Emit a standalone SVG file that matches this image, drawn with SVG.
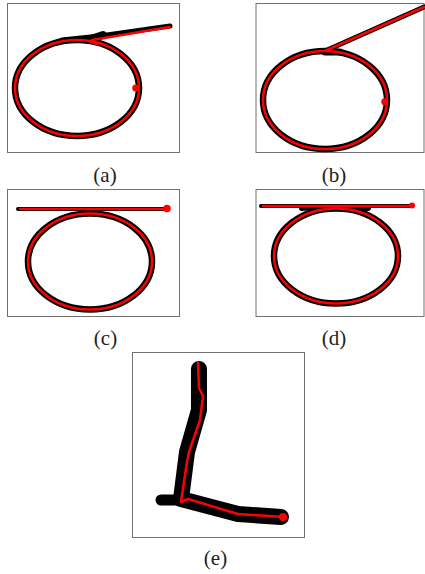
<svg xmlns="http://www.w3.org/2000/svg" width="425" height="574" viewBox="0 0 425 574">
<style>
.frame{fill:#fff;stroke:#707070;stroke-width:1}
.blk{fill:none;stroke:#000;stroke-linecap:round;stroke-linejoin:round}
.red{fill:none;stroke:#f00;stroke-width:2.5;stroke-linecap:round;stroke-linejoin:round}
.dot{fill:#f00}
.lbl{font-family:"Liberation Serif","Times New Roman",serif;font-size:21px;fill:#222;text-anchor:middle}
</style>
<rect width="425" height="574" fill="#fff"/>
<g id="panel-a">
<rect class="frame" x="7.5" y="3.5" width="172" height="149"/>
<ellipse class="blk" cx="77" cy="88" rx="62" ry="48" stroke-width="6.5"/>
<path class="blk" d="M62,40 L100,36 L170,26" stroke-width="5"/>
<path class="blk" d="M88,40 L103,35" stroke-width="8"/>
<ellipse class="red" cx="77" cy="88" rx="62" ry="48"/>
<path class="red" d="M89,41 L97,44 M92,40 L170,27"/>
<circle class="dot" cx="135.7" cy="88" r="3.5"/>
<text class="lbl" x="105" y="182">(a)</text>
</g>
<g id="panel-b">
<rect class="frame" x="256" y="3.5" width="168" height="149"/>
<ellipse class="blk" cx="325" cy="100" rx="62" ry="49" stroke-width="6.5"/>
<path class="blk" d="M325,51 L424,7" stroke-width="5"/>
<path class="blk" d="M325,52 L340,52" stroke-width="7"/>
<ellipse class="red" cx="325" cy="100" rx="62" ry="49"/>
<path class="red" d="M325,51 L424,7"/>
<circle class="dot" cx="384.7" cy="101.7" r="3.5"/>
<text class="lbl" x="334" y="182">(b)</text>
</g>
<g id="panel-c">
<rect class="frame" x="7.5" y="189.5" width="172" height="127"/>
<ellipse class="blk" cx="90" cy="261.5" rx="62" ry="48" stroke-width="6.5"/>
<path class="blk" d="M18,209 L167,209" stroke-width="4"/>
<ellipse class="red" cx="90" cy="261.5" rx="62" ry="48"/>
<path class="red" d="M20,209 L167,209"/>
<circle class="dot" cx="167" cy="208.5" r="3.8"/>
<text class="lbl" x="105.5" y="345">(c)</text>
</g>
<g id="panel-d">
<rect class="frame" x="256" y="189.5" width="168" height="127"/>
<ellipse class="blk" cx="336" cy="256" rx="62" ry="47.5" stroke-width="6.5"/>
<path class="blk" d="M261,206 L412,206" stroke-width="4"/>
<path class="blk" d="M302,208 L312,207 M356,208 L368,208" stroke-width="6"/>
<ellipse class="red" cx="336" cy="256" rx="62" ry="47.5"/>
<path class="red" d="M263,206 L412,206"/>
<circle class="dot" cx="412" cy="205.5" r="3"/>
<text class="lbl" x="334" y="345">(d)</text>
</g>
<g id="panel-e">
<rect class="frame" x="132.5" y="352.5" width="172" height="185"/>
<path class="blk" d="M199,369 L199,410 L187,452 L181,499 L238,514 L281,517" stroke-width="16"/>
<path class="blk" d="M161,500 L180,500" stroke-width="11"/>
<path class="red" d="M198,363 L199,388 L203,396 L200,420 L189,452 L187,462 L181,502 L188,499 L238,514 L283,517"/>
<circle class="dot" cx="283" cy="517" r="4"/>
<text class="lbl" x="215.5" y="565">(e)</text>
</g>
</svg>
